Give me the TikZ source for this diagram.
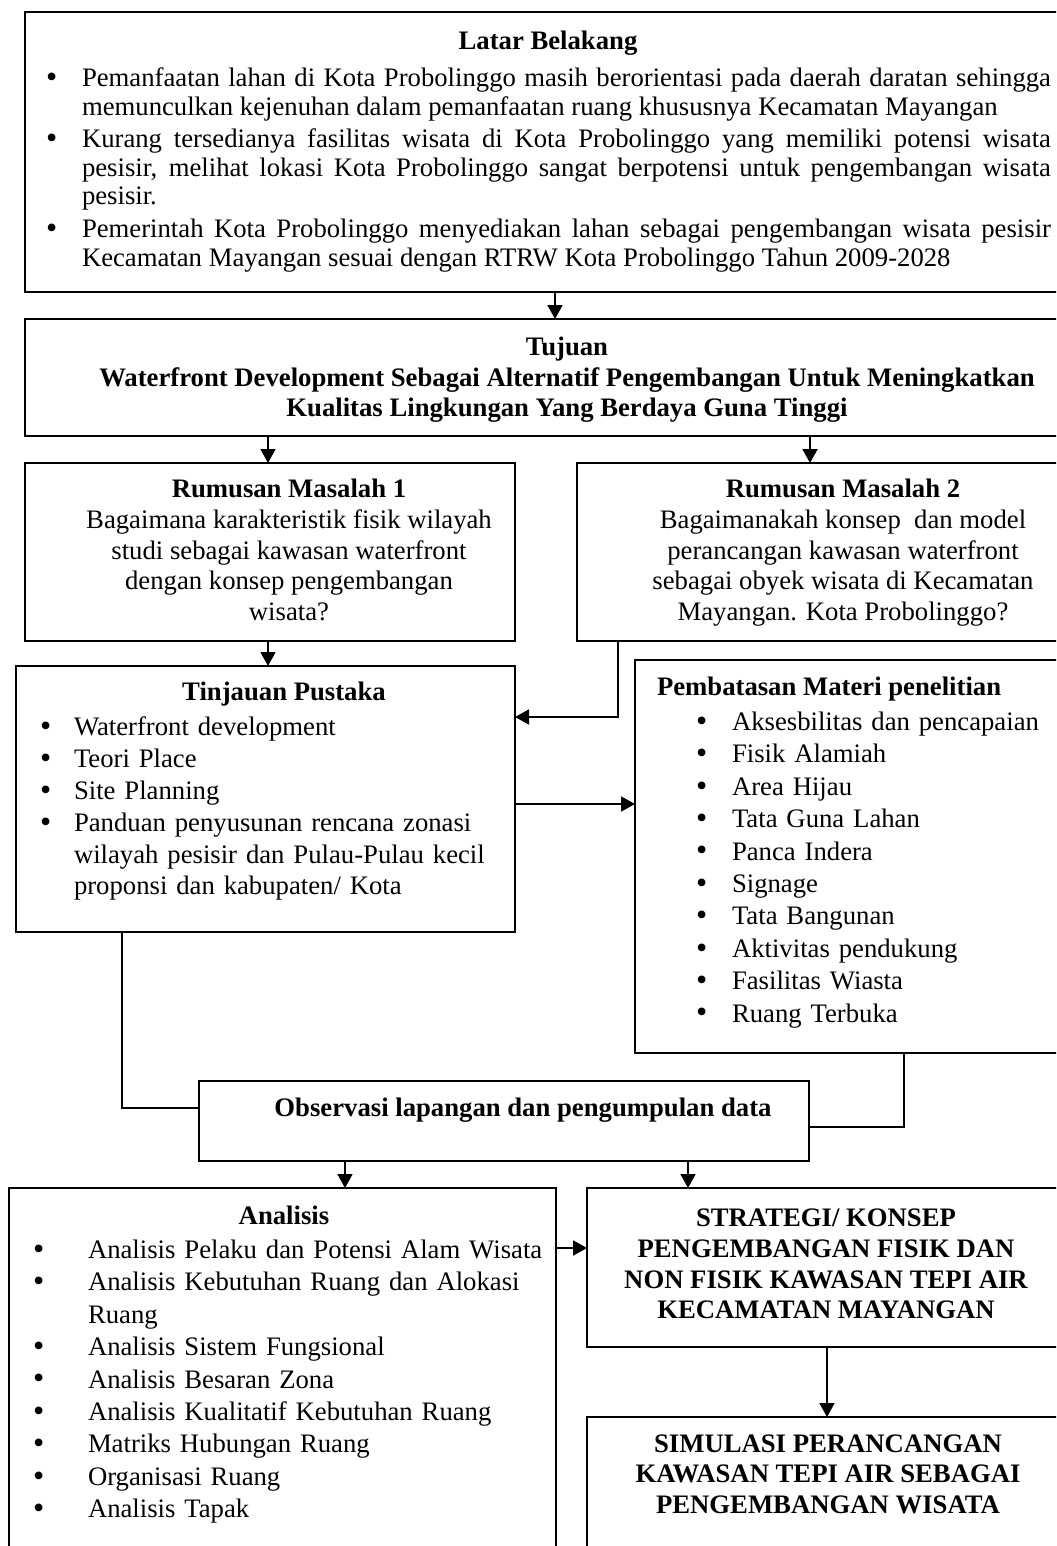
\documentclass[tikz,border=0pt]{standalone}
\usepackage{fontspec}
\setmainfont{Liberation Serif}
\usetikzlibrary{arrows.meta}
\tikzset{
  box/.style={draw, line width=0.7pt, inner sep=0pt, outer sep=0pt, anchor=north west},
  arr/.style={line width=0.9pt, -{Triangle[length=7pt,width=7.5pt]}},
  con/.style={line width=0.9pt},
  txt/.style={inner sep=0pt, outer sep=0pt, font=\fontsize{13.35}{14}\selectfont},
  ttl/.style={inner sep=0pt, outer sep=0pt, font=\fontsize{13.35}{14}\selectfont\bfseries},
}
\newcommand\bul[1]{\par\noindent\llap{\makebox[#1][l]{\raisebox{-0.03em}{\scalebox{1.2}{\textbullet}}}}}
\newcommand\pbox[5]{\node[box, minimum width=#4*0.5pt, minimum height=#5*0.5pt] (#1) at (#2,#3) {};}
\begin{document}
\begin{tikzpicture}[x=0.5pt,y=-0.5pt]
\clip (0,0) rectangle (1056,1546);
\fill[white] (0,0) rectangle (1056,1546);

% boxes
\pbox{lb}{25}{12}{1045}{280}
\pbox{tj}{25}{319}{1045}{117}
\pbox{rm1}{25}{463}{490}{178}
\pbox{rm2}{577}{463}{493}{178}
\pbox{tp}{16}{666}{499}{266}
\pbox{pm}{635}{660}{435}{393}
\pbox{ob}{199}{1081}{610}{80}
\pbox{an}{9}{1188}{547}{372}
\pbox{st}{587}{1188}{483}{159}
\pbox{si}{587}{1417}{483}{143}

% Latar Belakang
\node[ttl, anchor=base] (lbh) at (548,50) {Latar Belakang};
\node[txt, text width=484.5pt, align=justify, anchor=north west, font=\fontsize{13.35}{14.3}\selectfont] (lbt) at (82,58) {%
\tolerance=9999\hyphenpenalty=10000
\bul{18pt}Pemanfaatan lahan di Kota Probolinggo masih berorientasi pada daerah daratan sehingga\linebreak memunculkan kejenuhan dalam pemanfaatan ruang khususnya Kecamatan Mayangan
\par\vspace{2pt}
\bul{18pt}Kurang tersedianya fasilitas wisata di Kota Probolinggo yang memiliki potensi wisata\linebreak pesisir, melihat lokasi Kota Probolinggo sangat berpotensi untuk pengembangan wisata\linebreak pesisir.
\par\vspace{2pt}
\bul{18pt}Pemerintah Kota Probolinggo menyediakan lahan sebagai pengembangan wisata pesisir\linebreak Kecamatan Mayangan sesuai dengan RTRW Kota Probolinggo Tahun 2009-2028\par};

% Tujuan
\node[ttl, align=center, anchor=north, font=\fontsize{13.35}{15.25}\selectfont\bfseries] (tjt) at (567,337) {Tujuan\\Waterfront Development Sebagai Alternatif Pengembangan Untuk Meningkatkan\\Kualitas Lingkungan Yang Berdaya Guna Tinggi};

% Rumusan Masalah
\node[txt, align=center, anchor=north, font=\fontsize{13.35}{15.4}\selectfont] (rm1t) at (289,479) {\textbf{Rumusan Masalah 1}\\Bagaimana karakteristik fisik wilayah\\studi sebagai kawasan waterfront\\dengan konsep pengembangan\\wisata?};
\node[txt, align=center, anchor=north, font=\fontsize{13.35}{15.4}\selectfont] (rm2t) at (843,479) {\textbf{Rumusan Masalah 2}\\Bagaimanakah konsep\ \ dan model\\perancangan kawasan waterfront\\sebagai obyek wisata di Kecamatan\\Mayangan. Kota Probolinggo?};

% Tinjauan Pustaka
\node[ttl, anchor=base] (tph) at (284,700) {Tinjauan Pustaka};
\node[txt, text width=250pt, align=left, anchor=north west, font=\fontsize{13.35}{15.9}\selectfont] (tpl) at (74,704) {%
\bul{17pt}Waterfront development
\bul{17pt}Teori Place
\bul{17pt}Site Planning
\bul{17pt}Panduan penyusunan rencana zonasi\\wilayah pesisir dan Pulau-Pulau kecil\\proponsi dan kabupaten/ Kota\par};

% Pembatasan Materi
\node[ttl, anchor=base west] (pmh) at (657,695) {Pembatasan Materi penelitian};
\node[txt, text width=170pt, align=left, anchor=north west, font=\fontsize{13.35}{16.2}\selectfont] (pml) at (732,698) {%
\bul{18pt}Aksesbilitas dan pencapaian
\bul{18pt}Fisik Alamiah
\bul{18pt}Area Hijau
\bul{18pt}Tata Guna Lahan
\bul{18pt}Panca Indera
\bul{18pt}Signage
\bul{18pt}Tata Bangunan
\bul{18pt}Aktivitas pendukung
\bul{18pt}Fasilitas Wiasta
\bul{18pt}Ruang Terbuka\par};

% Observasi
\node[ttl, anchor=base] (obt) at (523,1116) {Observasi lapangan dan pengumpulan data};

% Analisis
\node[ttl, anchor=base] (anh) at (284,1224) {Analisis};
\node[txt, text width=240pt, align=left, anchor=north west, font=\fontsize{13.35}{16.2}\selectfont] (anl) at (88,1226) {%
\bul{27.5pt}Analisis Pelaku dan Potensi Alam Wisata
\bul{27.5pt}Analisis Kebutuhan Ruang dan Alokasi\\Ruang
\bul{27.5pt}Analisis Sistem Fungsional
\bul{27.5pt}Analisis Besaran Zona
\bul{27.5pt}Analisis Kualitatif Kebutuhan Ruang
\bul{27.5pt}Matriks Hubungan Ruang
\bul{27.5pt}Organisasi Ruang
\bul{27.5pt}Analisis Tapak\par};

% Strategi / Simulasi
\node[ttl, align=center, anchor=north, font=\fontsize{13.35}{15.35}\selectfont\bfseries] (stt) at (826,1209) {STRATEGI/ KONSEP\\PENGEMBANGAN FISIK DAN\\NON FISIK KAWASAN TEPI AIR\\KECAMATAN MAYANGAN};
\node[ttl, align=center, anchor=north, font=\fontsize{13.35}{15.1}\selectfont\bfseries] (sit) at (828,1435) {SIMULASI PERANCANGAN\\KAWASAN TEPI AIR SEBAGAI\\PENGEMBANGAN WISATA};

% helper coordinates
\coordinate (x555) at (555,0);
\coordinate (x268) at (268,0);
\coordinate (x810) at (810,0);
\coordinate (k1) at (618,717);
\coordinate (k2) at (0,804);
\coordinate (k3) at (122,1108);
\coordinate (k4) at (904,1127);
\coordinate (x345) at (345,0);
\coordinate (x688) at (688,0);
\coordinate (k5) at (0,1248);
\coordinate (x827) at (827,0);

% connectors
\draw[arr] (lb.south -| x555) -- (tj.north -| x555);
\draw[arr] (tj.south -| x268) -- (rm1.north -| x268);
\draw[arr] (tj.south -| x810) -- (rm2.north -| x810);
\draw[arr] (rm1.south -| x268) -- (tp.north -| x268);
\draw[arr] (rm2.south -| k1) |- (tp.east |- k1);
\draw[arr] (tp.east |- k2) -- (pm.west |- k2);
\draw[con] (tp.south -| k3) |- (ob.west |- k3);
\draw[con] (pm.south -| k4) |- (ob.east |- k4);
\draw[arr] (ob.south -| x345) -- (an.north -| x345);
\draw[arr] (ob.south -| x688) -- (st.north -| x688);
\draw[arr] (an.east |- k5) -- (st.west |- k5);
\draw[arr] (st.south -| x827) -- (si.north -| x827);
\end{tikzpicture}
\end{document}
